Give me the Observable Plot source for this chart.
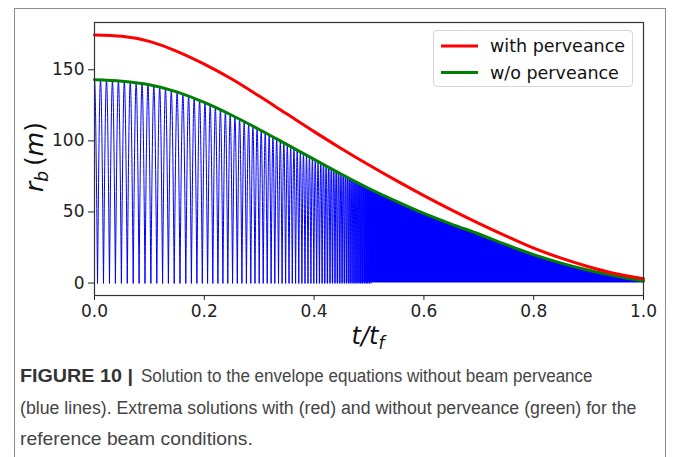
<!DOCTYPE html>
<html>
<head>
<meta charset="utf-8">
<script src="https://cdn.jsdelivr.net/npm/d3@7"></script>
<script src="https://cdn.jsdelivr.net/npm/@observablehq/plot@0.6"></script>
<style>
  html, body { margin: 0; padding: 0; background: #fff; width: 675px; height: 457px; overflow: hidden; }
  #wrap { position: relative; width: 675px; height: 457px; }
  #border { position: absolute; left: 14px; top: 8px; width: 652px; height: 480px; border: 1.5px solid #8c8c8c; box-sizing: border-box; }
  #chart { position: absolute; left: 0; top: 0; }
  #legend { position: absolute; left: 433px; top: 30px; width: 200px; height: 57px; box-sizing: border-box;
            border: 1px solid #d6d6d6; border-radius: 4px; background: rgba(255,255,255,0.85); }
  #caption { position: absolute; left: 0; top: 350px; }
</style>
</head>
<body>
<div id="wrap">
  <div id="chart"></div>
  <div id="legend"></div>
  <svg id="caption" width="675" height="105"></svg>
  <div id="border"></div>
</div>
<script>
// ---- data ----
const tSamples = [0, 0.05, 0.1, 0.15, 0.2, 0.25, 0.3, 0.35, 0.4, 0.45, 0.5,
                  0.55, 0.6, 0.65, 0.7, 0.75, 0.8, 0.85, 0.9, 0.95, 1.0];
const withPerveance = [174.5, 173.5, 170, 163, 154, 143.5, 131.5, 119, 106.5, 94.5, 83,
                       72, 61.5, 51.5, 42, 33, 24.5, 17.5, 11.5, 6.5, 3.0];
const withoutPerveance = [143, 142, 139.5, 134.5, 127, 118, 108, 97.5, 87, 76.5, 66.5,
                          57.5, 49, 41.5, 34.5, 27, 20, 14, 9, 5, 1.5];
// times where the blue (no-perveance) solution touches zero (visible part)
const blueZeros = [0.0055, 0.0164, 0.0273, 0.0381, 0.0490, 0.0597, 0.0705, 0.0812, 0.0920, 0.1027,
  0.1135, 0.1240, 0.1346, 0.1452, 0.1557, 0.1663, 0.1765, 0.1865, 0.1964, 0.2060,
  0.2155, 0.2248, 0.2339, 0.2428, 0.2515, 0.2601, 0.2685, 0.2767, 0.2847, 0.2923,
  0.3000, 0.3073, 0.3146, 0.3217, 0.3284, 0.3352, 0.3417, 0.3481, 0.3543, 0.3603,
  0.3663, 0.3721, 0.3778, 0.3834, 0.3889, 0.3942, 0.3995, 0.4046, 0.4097, 0.4146,
  0.4195, 0.4242, 0.4290, 0.4335, 0.4381, 0.4424, 0.4468, 0.4510, 0.4552, 0.4592,
  0.4632, 0.4670, 0.4709, 0.4745, 0.4781, 0.4816, 0.4851, 0.4883, 0.4916, 0.4947,
  0.4978, 0.5009, 0.5038];
const denseStart = 0.4; // where the blue oscillations start merging into a solid fill
const xTicks = [0, 0.2, 0.4, 0.6, 0.8, 1.0];
const yTicks = [0, 50, 100, 150];
const seriesNames = ["with perveance", "w/o perveance"];
const seriesColors = ["#ff0000", "#008000"];
const captionBold = "FIGURE 10 |";
const captionLines = [
  "Solution to the envelope equations without beam perveance",
  "(blue lines). Extrema solutions with (red) and without perveance (green) for the",
  "reference beam conditions."
];

// ---- build tables ----
const redRows = tSamples.map((t, i) => ({t, r: withPerveance[i]}));
const greenRows = tSamples.map((t, i) => ({t, r: withoutPerveance[i]}));
const envelope = d3.scaleLinear().domain(tSamples).range(withoutPerveance);
const archRows = [];
const edges = [-blueZeros[0], ...blueZeros];
for (let i = 0; i < edges.length - 1; i++) {
  const a = edges[i], b = edges[i + 1], m = Math.max((a + b) / 2, 0);
  archRows.push({arch: i, t: a, r: 0}, {arch: i, t: m, r: envelope(m)}, {arch: i, t: b, r: 0});
}
const denseRows = greenRows.filter(d => d.t >= denseStart);

const chart = Plot.plot({
  width: 675,
  height: 360,
  marginLeft: 94,
  marginRight: 32,
  marginTop: 22,
  marginBottom: 65,
  style: {fontFamily: "DejaVu Sans", fontSize: "17px", color: "#222", background: "transparent"},
  x: {domain: [0, 1], ticks: xTicks, tickFormat: d3.format(".1f"), tickSize: 5, tickPadding: 4, label: null},
  y: {domain: [-8.75, 183.25], ticks: yTicks, tickFormat: d3.format("d"), tickSize: 6, tickPadding: 4, label: null},
  marks: [
    Plot.line(archRows, {x: "t", y: "r", z: "arch", stroke: "#0000ff", strokeWidth: 1, curve: "monotone-x", clip: true}),
    Plot.areaY(denseRows, {x: "t", y: "r", fill: "url(#denseFade)", curve: "monotone-x"}),
    Plot.line(greenRows, {x: "t", y: "r", stroke: seriesColors[1], strokeWidth: 3, curve: "monotone-x"}),
    Plot.line(redRows, {x: "t", y: "r", stroke: seriesColors[0], strokeWidth: 3, curve: "monotone-x"}),
    Plot.frame({stroke: "#333", strokeWidth: 1.2})
  ]
});
document.getElementById("chart").appendChild(chart);

const svg = d3.select(chart);
// soft transition from separated oscillations to the solid blue region
const grad = svg.insert("defs", ":first-child").append("linearGradient")
  .attr("id", "denseFade").attr("x1", "0").attr("x2", "1").attr("y1", "0").attr("y2", "0");
grad.append("stop").attr("offset", "0").attr("stop-color", "#0000ff").attr("stop-opacity", 0);
grad.append("stop").attr("offset", "0.09").attr("stop-color", "#0000ff").attr("stop-opacity", 0.35);
grad.append("stop").attr("offset", "0.17").attr("stop-color", "#0000ff").attr("stop-opacity", 1);
grad.append("stop").attr("offset", "1").attr("stop-color", "#0000ff").attr("stop-opacity", 1);

// axis labels (mathtext-like, italic with subscripts)
const xl = svg.append("text")
  .attr("x", 368).attr("y", 344)
  .attr("text-anchor", "middle")
  .attr("font-family", "DejaVu Sans").attr("font-size", 24).attr("fill", "#111");
xl.append("tspan").attr("font-style", "italic").text("t/t");
xl.append("tspan").attr("font-style", "italic").attr("font-size", 17).attr("dy", 5).text("f");

const yl = svg.append("text")
  .attr("transform", "translate(43,157) rotate(-90)")
  .attr("text-anchor", "middle")
  .attr("font-family", "DejaVu Sans").attr("font-size", 25).attr("fill", "#111");
yl.append("tspan").attr("font-style", "italic").text("r");
yl.append("tspan").attr("font-style", "italic").attr("font-size", 17).attr("dy", 5).text("b");
yl.append("tspan").attr("dy", -5).text("\u2009(");
yl.append("tspan").attr("font-style", "italic").text("m");
yl.append("tspan").text(")");

// legend
const lg = d3.select("#legend").append("svg").attr("width", 200).attr("height", 57);
seriesNames.forEach((name, i) => {
  const cy = 15 + i * 26.5;
  lg.append("line").attr("x1", 7).attr("x2", 44).attr("y1", cy).attr("y2", cy)
    .attr("stroke", seriesColors[i]).attr("stroke-width", 3);
  lg.append("text").attr("x", 56).attr("y", cy).attr("dy", "0.35em")
    .attr("font-family", "DejaVu Sans").attr("font-size", 17.5).attr("fill", "#111").text(name);
});

// caption: condensed look obtained by a horizontal scale of each line
const cap = d3.select("#caption");
const capFont = "'Liberation Sans', Arial, sans-serif";
function capText(str, x, y, width, bold, color) {
  const g = cap.append("g");
  const t = g.append("text").attr("x", 0).attr("y", 0)
    .attr("font-family", capFont).attr("font-size", 19)
    .attr("font-weight", bold ? "bold" : "normal").attr("fill", color).text(str);
  const natural = t.node().getComputedTextLength();
  g.attr("transform", `translate(${x},${y}) scale(${width / natural},1)`);
}
capText(captionBold, 20, 32, 113, true, "#333");
const capWidths = [452, 617, 233];
const capX = [141, 20, 20];
captionLines.forEach((line, i) => capText(line, capX[i], 32 + i * 31.5, capWidths[i], false, "#444"));
</script>
</body>
</html>
